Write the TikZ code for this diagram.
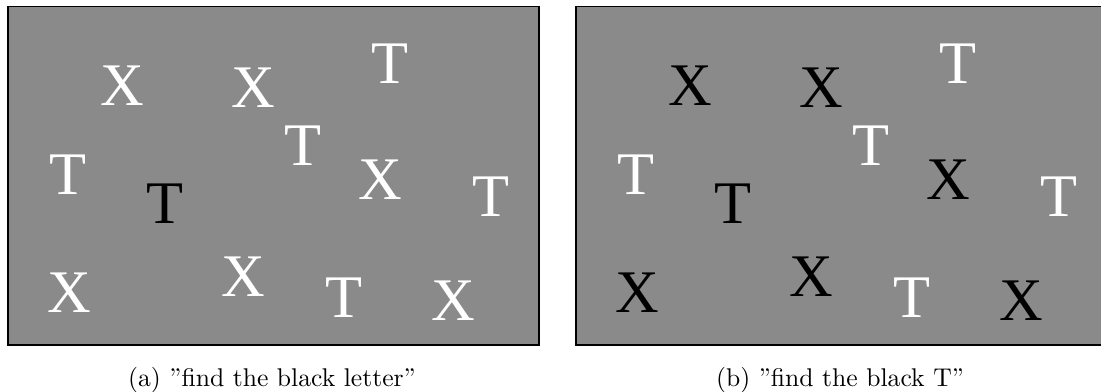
\documentclass[tikz,border=0pt]{standalone}
\usepackage{fontspec}
\newfontfamily\stimfont{Liberation Serif}
\definecolor{panelgray}{RGB}{138,138,138}
\tikzset{
  panel/.style={draw=black,fill=panelgray,line width=0.6pt,inner sep=0pt,
    minimum width=212.4pt,minimum height=135.2pt,anchor=north west},
  ltr/.style={font=\stimfont\fontsize{24.2}{26}\selectfont,inner sep=0pt},
  capt/.style={font=\fontsize{10.25}{12}\selectfont,inner sep=0pt}
}
\begin{document}
\begin{tikzpicture}[x=0.4pt,y=-0.4pt]
  \useasboundingbox (0,0) rectangle (1101,392);
  \clip (0,0) rectangle (1101,392);
  \node[panel] (pa) at (7,6) {};
  \node[panel] (pb) at (575,6) {};

  % letters: x/y/letter/colour in (a)/colour in (b)
  \foreach \lx/\ly/\ch/\ca/\cb [count=\i] in {
      122/86/X/white/black, 253/88/X/white/black, 390/64/T/white/white,
      68/175/T/white/white, 165/204/T/black/black, 303/146/T/white/white,
      380/180/X/white/black, 491/197/T/white/white, 69/293/X/white/black,
      243/277/X/white/black, 344/298/T/white/white, 453/301/X/white/black}
  {
    \node[ltr,text=\ca] (a\i) at (\lx,\ly) {\ch};
    \node[ltr,text=\cb] (b\i) at (\lx+568,\ly) {\ch};
  }

  \node[capt] (capa) at (272,380) {(a) ''find the black letter''};
  \node[capt] (capb) at (840,380) {(b) ''find the black T''};
\end{tikzpicture}
\end{document}
